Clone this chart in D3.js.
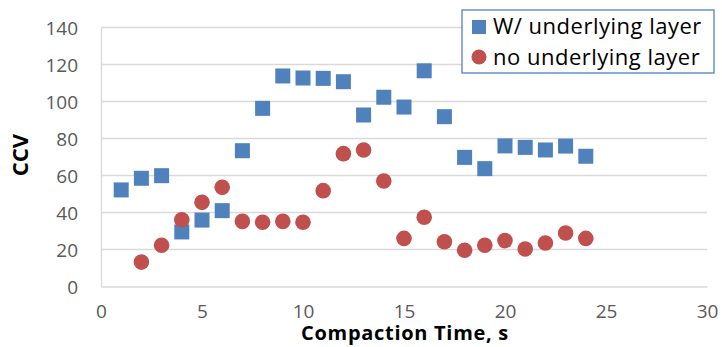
<!DOCTYPE html>
<html>
<head>
<meta charset="utf-8">
<script src="https://cdn.jsdelivr.net/npm/d3@7"></script>
<style>
  html, body { margin: 0; padding: 0; background: #fff; }
  svg { display: block; font-family: "Open Sans", sans-serif; }
</style>
</head>
<body>
<svg id="chart" width="722" height="347"></svg>
<script>
// Compaction time (s)
const timeWith = [1,2,3,4,5,6,7,8,9,10,11,12,13,14,15,16,17,18,19,20,21,22,23,24];
const ccvWith = [52.2,58.5,59.9,29.5,35.9,41,73.4,96.3,113.8,112.7,112.5,110.7,92.7,102.3,97,116.6,91.8,69.8,63.7,76,75.2,73.8,75.9,70.4];
const timeNo = [2,3,4,5,6,7,8,9,10,11,12,13,14,15,16,17,18,19,20,21,22,23,24];
const ccvNo = [13.2,22.3,36.1,45.5,53.6,35.2,34.7,35.2,34.7,51.8,71.8,73.8,57,26,37.4,24.2,19.6,22.3,24.8,20.3,23.5,28.9,26];
const xTicks = [0,5,10,15,20,25,30];
const yTicks = [0,20,40,60,80,100,120,140];
const seriesNames = ["W/ underlying layer", "no underlying layer"];

const blue = "#4F81BD", red = "#C0504D", grid = "#D9D9D9", tickText = "#595959";

const svg = d3.select("#chart");
const x = d3.scaleLinear().domain([0, 30]).range([101, 707]);
const y = d3.scaleLinear().domain([0, 140]).range([286.5, 27.5]);

// horizontal gridlines
svg.append("g").selectAll("line").data(yTicks.filter(d => d > 0)).join("line")
  .attr("x1", x(0)).attr("x2", x(30))
  .attr("y1", d => y(d)).attr("y2", d => y(d))
  .attr("stroke", grid).attr("stroke-width", 1.3);

// axes
const xAxis = d3.axisBottom(x).tickValues(xTicks).tickSize(0).tickPadding(18);
const yAxis = d3.axisLeft(y).tickValues(yTicks).tickSize(0).tickPadding(23);
const gx = svg.append("g").attr("transform", `translate(0,${y(0)})`).call(xAxis);
const gy = svg.append("g").attr("transform", `translate(${x(0)},0)`).call(yAxis);
[gx, gy].forEach(g => {
  g.select(".domain").attr("stroke", grid).attr("stroke-width", 1.3);
  g.selectAll("text").attr("fill", tickText).style("font-size", "19px").style("font-family", "'Open Sans', sans-serif");
});
gy.selectAll("text").attr("dy", "0.35em");

// W/ underlying layer (squares)
const sq = 15;
svg.append("g").selectAll("rect").data(timeWith.map((t, i) => [t, ccvWith[i]])).join("rect")
  .attr("x", d => x(d[0]) - sq / 2).attr("y", d => y(d[1]) - sq / 2)
  .attr("width", sq).attr("height", sq).attr("fill", blue);

// no underlying layer (circles)
svg.append("g").selectAll("circle").data(timeNo.map((t, i) => [t, ccvNo[i]])).join("circle")
  .attr("cx", d => x(d[0])).attr("cy", d => y(d[1])).attr("r", 7.8).attr("fill", red);

// axis titles
svg.append("text").attr("x", 405).attr("y", 340).attr("text-anchor", "middle")
  .style("font-weight", "bold").style("font-size", "20px").style("letter-spacing", "0.7px").attr("fill", "#000")
  .text("Compaction Time, s");
svg.append("text").attr("transform", "translate(28,155) rotate(-90)").attr("text-anchor", "middle")
  .style("font-weight", "bold").style("font-size", "22px").attr("fill", "#000")
  .text("CCV");

// legend
const lg = svg.append("g");
lg.append("rect").attr("x", 462).attr("y", 10).attr("width", 252).attr("height", 63)
  .attr("fill", "#fff").attr("stroke", blue).attr("stroke-width", 1.3);
lg.append("rect").attr("x", 472).attr("y", 20).attr("width", 14).attr("height", 14).attr("fill", blue);
lg.append("circle").attr("cx", 479).attr("cy", 57).attr("r", 7.5).attr("fill", red);
lg.selectAll("text.lbl").data(seriesNames).join("text").attr("class", "lbl")
  .attr("x", 493).attr("y", (d, i) => 34 + i * 31)
  .style("font-size", "22px").style("letter-spacing", "0.5px").attr("fill", "#000").text(d => d);
</script>
</body>
</html>
